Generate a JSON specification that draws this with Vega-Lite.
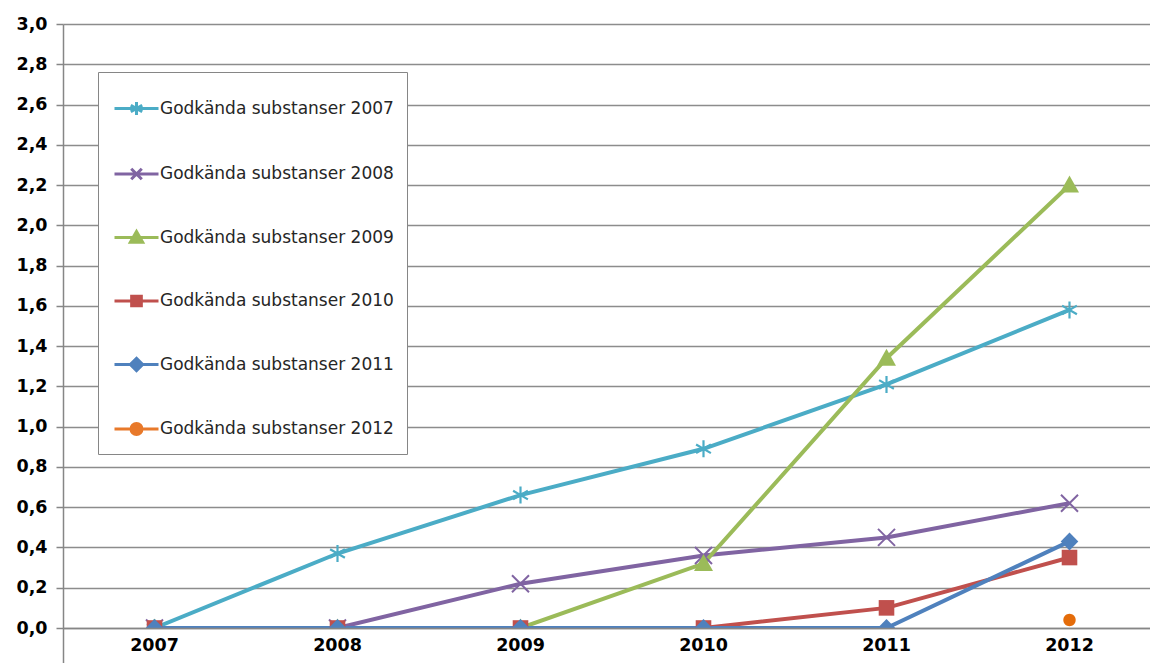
{
  "$schema": "https://vega.github.io/schema/vega-lite/v6.json",
  "width": 1087,
  "height": 604,
  "autosize": {"type": "none"},
  "padding": {"left": 63, "top": 24, "right": 0, "bottom": 35},
  "background": "white",
  "data": {
    "values": [
      {"series": "Godkända substanser 2007", "year": "2007", "value": 0},
      {"series": "Godkända substanser 2007", "year": "2008", "value": 0.37},
      {"series": "Godkända substanser 2007", "year": "2009", "value": 0.66},
      {"series": "Godkända substanser 2007", "year": "2010", "value": 0.89},
      {"series": "Godkända substanser 2007", "year": "2011", "value": 1.21},
      {"series": "Godkända substanser 2007", "year": "2012", "value": 1.58},
      {"series": "Godkända substanser 2008", "year": "2007", "value": 0},
      {"series": "Godkända substanser 2008", "year": "2008", "value": 0},
      {"series": "Godkända substanser 2008", "year": "2009", "value": 0.22},
      {"series": "Godkända substanser 2008", "year": "2010", "value": 0.36},
      {"series": "Godkända substanser 2008", "year": "2011", "value": 0.45},
      {"series": "Godkända substanser 2008", "year": "2012", "value": 0.62},
      {"series": "Godkända substanser 2009", "year": "2007", "value": 0},
      {"series": "Godkända substanser 2009", "year": "2008", "value": 0},
      {"series": "Godkända substanser 2009", "year": "2009", "value": 0},
      {"series": "Godkända substanser 2009", "year": "2010", "value": 0.32},
      {"series": "Godkända substanser 2009", "year": "2011", "value": 1.34},
      {"series": "Godkända substanser 2009", "year": "2012", "value": 2.2},
      {"series": "Godkända substanser 2010", "year": "2007", "value": 0},
      {"series": "Godkända substanser 2010", "year": "2008", "value": 0},
      {"series": "Godkända substanser 2010", "year": "2009", "value": 0},
      {"series": "Godkända substanser 2010", "year": "2010", "value": 0},
      {"series": "Godkända substanser 2010", "year": "2011", "value": 0.1},
      {"series": "Godkända substanser 2010", "year": "2012", "value": 0.35},
      {"series": "Godkända substanser 2011", "year": "2007", "value": 0},
      {"series": "Godkända substanser 2011", "year": "2008", "value": 0},
      {"series": "Godkända substanser 2011", "year": "2009", "value": 0},
      {"series": "Godkända substanser 2011", "year": "2010", "value": 0},
      {"series": "Godkända substanser 2011", "year": "2011", "value": 0},
      {"series": "Godkända substanser 2011", "year": "2012", "value": 0.43},
      {"series": "Godkända substanser 2012", "year": "2012", "value": 0.04}
    ]
  },
  "encoding": {
    "x": {
      "field": "year",
      "type": "ordinal",
      "scale": {"type": "band", "range": [0, 1098], "paddingInner": 0, "paddingOuter": 0},
      "axis": {
        "title": null,
        "labelAngle": 0,
        "grid": false,
        "zindex": 1,
        "domainColor": "#868686",
        "domainWidth": 1.5,
        "ticks": true,
        "tickSize": 35,
        "tickWidth": 1.5,
        "bandPosition": 0,
        "tickColor": {"condition": {"test": "datum.value == '2007'", "value": "#868686"}, "value": "transparent"},
        "labelPadding": -27,
        "labelFont": "DejaVu Sans",
        "labelFontWeight": "bold",
        "labelFontSize": 17.5,
        "labelColor": "#000000"
      }
    },
    "y": {
      "field": "value",
      "type": "quantitative",
      "scale": {"domain": [0, 3], "nice": false},
      "axis": {
        "title": null,
        "values": [0, 0.2, 0.4, 0.6, 0.8, 1, 1.2, 1.4, 1.6, 1.8, 2, 2.2, 2.4, 2.6, 2.8, 3],
        "labelExpr": "replace(format(datum.value, '.1f'), '.', ',')",
        "grid": true,
        "gridColor": "#8C8C8C",
        "gridWidth": 1.5,
        "domainColor": "#868686",
        "domainWidth": 1.5,
        "tickColor": "#868686",
        "tickSize": 7,
        "tickWidth": 1.5,
        "labelPadding": 9,
        "labelFont": "DejaVu Sans",
        "labelFontWeight": "bold",
        "labelFontSize": 17.5,
        "labelColor": "#000000"
      }
    }
  },
  "layer": [
    {
      "mark": {"type": "line", "strokeWidth": 4, "clip": true},
      "encoding": {
        "color": {
          "field": "series",
          "type": "nominal",
          "scale": {
            "domain": ["Godkända substanser 2007", "Godkända substanser 2008", "Godkända substanser 2009", "Godkända substanser 2010", "Godkända substanser 2011", "Godkända substanser 2012"],
            "range": ["#4BACC6", "#8064A2", "#9BBB59", "#C0504D", "#4F81BD", "#E8792A"]
          },
          "legend": null
        }
      }
    },
    {
      "transform": [{"filter": "datum.series == 'Godkända substanser 2007'"}],
      "mark": {"type": "point", "filled": false, "opacity": 1, "size": 400, "strokeWidth": 2.2, "color": "#4BACC6", "clip": true,
               "shape": "M0,-0.85V0.85M-0.74,-0.43L0.74,0.43M-0.74,0.43L0.74,-0.43"},
      "encoding": {}
    },
    {
      "transform": [{"filter": "datum.series == 'Godkända substanser 2008'"}],
      "mark": {"type": "point", "filled": false, "opacity": 1, "size": 400, "strokeWidth": 2, "color": "#8064A2", "clip": true,
               "shape": "M-0.85,-0.85L0.85,0.85M-0.85,0.85L0.85,-0.85"},
      "encoding": {}
    },
    {
      "transform": [{"filter": "datum.series == 'Godkända substanser 2009'"}],
      "mark": {"type": "point", "filled": true, "opacity": 1, "size": 400, "color": "#9BBB59", "clip": true,
               "shape": "M0,-0.95L0.95,0.75H-0.95Z"},
      "encoding": {}
    },
    {
      "transform": [{"filter": "datum.series == 'Godkända substanser 2010'"}],
      "mark": {"type": "point", "filled": true, "opacity": 1, "size": 400, "color": "#C0504D", "clip": true,
               "shape": "M-0.78,-0.78H0.78V0.78H-0.78Z"},
      "encoding": {}
    },
    {
      "transform": [{"filter": "datum.series == 'Godkända substanser 2011'"}],
      "mark": {"type": "point", "filled": true, "opacity": 1, "size": 400, "color": "#4F81BD", "clip": true,
               "shape": "M0,-0.9L0.88,0L0,0.9L-0.88,0Z"},
      "encoding": {}
    },
    {
      "transform": [{"filter": "datum.series == 'Godkända substanser 2012'"}],
      "mark": {"type": "point", "filled": true, "opacity": 1, "size": 400, "color": "#E46C0A", "clip": true,
               "shape": "M0.62,0A0.62,0.62 0 1 1 -0.62,0A0.62,0.62 0 1 1 0.62,0Z"},
      "encoding": {}
    },
    {
      "mark": {"type": "point", "size": 1936, "strokeWidth": 3, "opacity": 0},
      "encoding": {
        "fill": {
          "field": "series",
          "type": "nominal",
          "scale": {
            "domain": ["Godkända substanser 2007", "Godkända substanser 2008", "Godkända substanser 2009", "Godkända substanser 2010", "Godkända substanser 2011", "Godkända substanser 2012"],
            "range": ["#4BACC6", "#8064A2", "#9BBB59", "#C0504D", "#4F81BD", "#E8792A"]
          },
          "legend": {
            "title": null, "orient": "none", "legendX": 35, "legendY": 48, "padding": 13,
            "fillColor": "white", "strokeColor": "#868686", "symbolSize": 1936, "symbolOpacity": 1,
            "symbolStrokeWidth": 3, "symbolOffset": 2, "rowPadding": 28.5, "labelOffset": 0, "labelFont": "DejaVu Sans",
            "labelFontSize": 17, "labelColor": "#262626", "labelLimit": 0
          }
        },
        "stroke": {
          "field": "series",
          "type": "nominal",
          "scale": {
            "domain": ["Godkända substanser 2007", "Godkända substanser 2008", "Godkända substanser 2009", "Godkända substanser 2010", "Godkända substanser 2011", "Godkända substanser 2012"],
            "range": ["#4BACC6", "#8064A2", "#9BBB59", "#C0504D", "#4F81BD", "#E8792A"]
          },
          "legend": {
            "title": null, "orient": "none", "legendX": 35, "legendY": 48, "padding": 13,
            "fillColor": "white", "strokeColor": "#868686", "symbolSize": 1936, "symbolOpacity": 1,
            "symbolStrokeWidth": 3, "symbolOffset": 2, "rowPadding": 28.5, "labelOffset": 0, "labelFont": "DejaVu Sans",
            "labelFontSize": 17, "labelColor": "#262626", "labelLimit": 0
          }
        },
        "shape": {
          "field": "series",
          "type": "nominal",
          "scale": {
            "domain": ["Godkända substanser 2007", "Godkända substanser 2008", "Godkända substanser 2009", "Godkända substanser 2010", "Godkända substanser 2011", "Godkända substanser 2012"],
            "range": [
              "M-1,0H1M0,-0.3V0.3M-0.26,-0.15L0.26,0.15M-0.26,0.15L0.26,-0.15",
              "M-1,0H1M-0.24,-0.24L0.24,0.24M-0.24,0.24L0.24,-0.24",
              "M-1,0H1M0,-0.27L0.28,0.22H-0.28Z",
              "M-1,0H1M-0.22,-0.22H0.22V0.22H-0.22Z",
              "M-1,0H1M0,-0.28L0.28,0L0,0.28L-0.28,0Z",
              "M-1,0H1M0.25,0A0.25,0.25 0 1 1 -0.25,0A0.25,0.25 0 1 1 0.25,0Z"
            ]
          },
          "legend": {
            "title": null, "orient": "none", "legendX": 35, "legendY": 48, "padding": 13,
            "fillColor": "white", "strokeColor": "#868686", "symbolSize": 1936, "symbolOpacity": 1,
            "symbolStrokeWidth": 3, "symbolOffset": 2, "rowPadding": 28.5, "labelOffset": 0, "labelFont": "DejaVu Sans",
            "labelFontSize": 17, "labelColor": "#262626", "labelLimit": 0
          }
        }
      }
    }
  ],
  "resolve": {
    "scale": {"shape": "independent", "fill": "independent", "stroke": "independent"},
    "legend": {"shape": "independent", "fill": "independent", "stroke": "independent"}
  },
  "config": {
    "view": {"stroke": null},
    "font": "DejaVu Sans"
  }
}
